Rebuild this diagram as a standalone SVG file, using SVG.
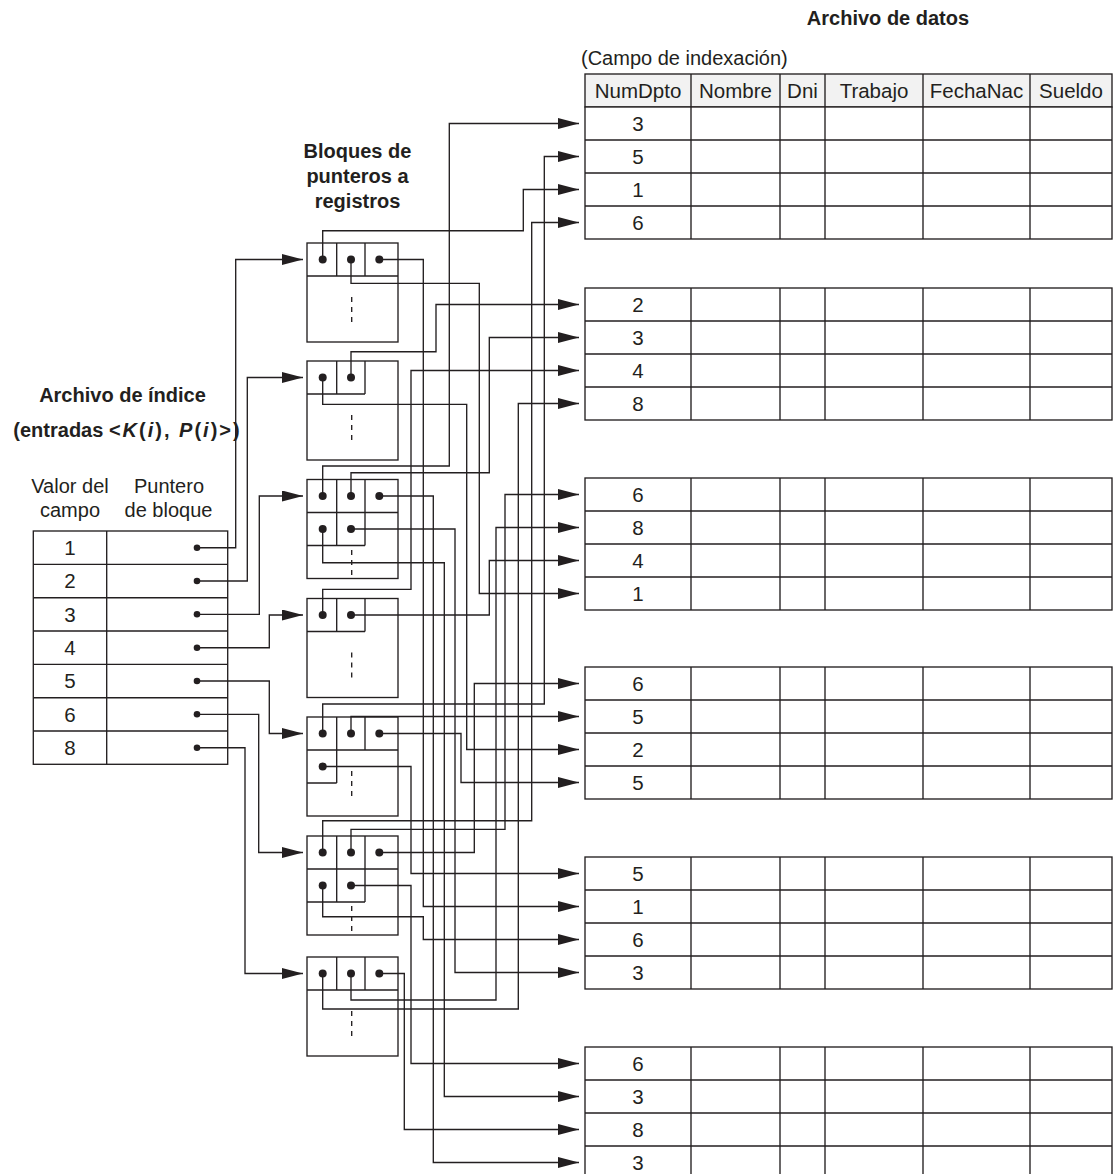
<svg xmlns="http://www.w3.org/2000/svg" xmlns:xlink="http://www.w3.org/1999/xlink" width="1114" height="1174" viewBox="0 0 1114 1174">
<style>
.ln{fill:none;stroke:#231f20;stroke-width:1.35}
.cn{fill:none;stroke:#231f20;stroke-width:1.35;marker-end:url(#ah)}
.bx{fill:#fff;stroke:#231f20;stroke-width:1.35}
.hd{fill:#f2f2f2;stroke:#231f20;stroke-width:1.35}
.ds{fill:none;stroke:#231f20;stroke-width:1.35;stroke-dasharray:5 5}
.dot{fill:#231f20}
.t{font-family:"Liberation Sans",Arial,sans-serif;font-size:20px;fill:#231f20}
.tt{font-family:"Liberation Sans",Arial,sans-serif;font-size:20.5px;fill:#231f20;text-anchor:middle}
.b{font-weight:bold}
.m{text-anchor:middle}
.i{font-style:italic}
.sp{letter-spacing:2px}
</style>
<defs>
<marker id="ah" markerUnits="userSpaceOnUse" viewBox="0 0 21 11" markerWidth="21" markerHeight="11" refX="21" refY="5.5" orient="auto">
<path d="M0,0 L21,5.5 L0,11 Z" fill="#231f20"/>
</marker>
<g id="grid4">
<rect class="bx" x="585" y="0" width="527" height="132"/>
<path class="ln" d="M585 33H1112M585 66H1112M585 99H1112M691 0V132M780 0V132M825 0V132M923 0V132M1030 0V132"/>
</g>
</defs>

<!-- Labels -->
<g id="labels">
<text class="t b m" x="888" y="25">Archivo de datos</text>
<text class="t" x="581" y="65">(Campo de indexación)</text>
<text class="t b m" x="357.5" y="157.5">Bloques de</text>
<text class="t b m" x="357.5" y="182.7">punteros a</text>
<text class="t b m" x="357.5" y="208">registros</text>
<text class="t b m" x="122.5" y="401.7">Archivo de índice</text>
<text class="t b m" x="126.5" y="436.5">(entradas <tspan class="sp">&lt;<tspan class="i">K</tspan>(<tspan class="i">i</tspan>), <tspan class="i">P</tspan>(<tspan class="i">i</tspan>)&gt;</tspan>)</text>
<text class="t m" x="70" y="493">Valor del</text>
<text class="t m" x="70" y="517">campo</text>
<text class="t m" x="169" y="493">Puntero</text>
<text class="t m" x="168.5" y="517">de bloque</text>
</g>

<!-- Index file -->
<g id="index">
<rect class="bx" x="33.3" y="531" width="194.4" height="233.3"/>
<path class="ln" d="M33.3 564.3H227.7M33.3 597.7H227.7M33.3 631H227.7M33.3 664.3H227.7M33.3 697.7H227.7M33.3 731H227.7M106.7 531V764.3"/>
<text class="tt" x="70" y="555">1</text>
<text class="tt" x="70" y="588.3">2</text>
<text class="tt" x="70" y="621.6">3</text>
<text class="tt" x="70" y="655">4</text>
<text class="tt" x="70" y="688.3">5</text>
<text class="tt" x="70" y="721.6">6</text>
<text class="tt" x="70" y="755">8</text>
<circle class="dot" cx="197" cy="547.7" r="3.3"/>
<circle class="dot" cx="197" cy="581" r="3.3"/>
<circle class="dot" cx="197" cy="614.3" r="3.3"/>
<circle class="dot" cx="197" cy="647.7" r="3.3"/>
<circle class="dot" cx="197" cy="681" r="3.3"/>
<circle class="dot" cx="197" cy="714.3" r="3.3"/>
<circle class="dot" cx="197" cy="747.7" r="3.3"/>
</g>

<!-- Blocks -->
<g id="block1">
<rect class="bx" x="307" y="243" width="91" height="99"/>
<path class="ln" d="M307 276H398M336.7 243V276M365 243V276"/>
<path class="ds" d="M351.7 297V322"/>
<circle class="dot" cx="322.7" cy="259.5" r="4"/><circle class="dot" cx="351" cy="259.5" r="4"/><circle class="dot" cx="379.3" cy="259.5" r="4"/>
</g>
<g id="block2">
<rect class="bx" x="307" y="361" width="91" height="99"/>
<path class="ln" d="M307 394H365M336.7 361V394M365 361V394"/>
<path class="ds" d="M351.7 415V440"/>
<circle class="dot" cx="322.7" cy="377.5" r="4"/><circle class="dot" cx="351" cy="377.5" r="4"/>
</g>
<g id="block3">
<rect class="bx" x="307" y="479.5" width="91" height="99"/>
<path class="ln" d="M307 512.5H398M336.7 479.5V545.5M365 479.5V545.5M307 545.5H365"/>
<path class="ds" d="M351.7 550V576"/>
<circle class="dot" cx="322.7" cy="496" r="4"/><circle class="dot" cx="351" cy="496" r="4"/><circle class="dot" cx="379.3" cy="496" r="4"/>
<circle class="dot" cx="322.7" cy="529" r="4"/><circle class="dot" cx="351" cy="529" r="4"/>
</g>
<g id="block4">
<rect class="bx" x="307" y="598.5" width="91" height="99"/>
<path class="ln" d="M307 631.5H365M336.7 598.5V631.5M365 598.5V631.5"/>
<path class="ds" d="M351.7 652.5V677.5"/>
<circle class="dot" cx="322.7" cy="615" r="4"/><circle class="dot" cx="351" cy="615" r="4"/>
</g>
<g id="block5">
<rect class="bx" x="307" y="717" width="91" height="99"/>
<path class="ln" d="M307 750H398M336.7 717V783M365 717V750M307 783H336.7"/>
<path class="ds" d="M351.7 771V796"/>
<circle class="dot" cx="322.7" cy="733.5" r="4"/><circle class="dot" cx="351" cy="733.5" r="4"/><circle class="dot" cx="379.3" cy="733.5" r="4"/>
<circle class="dot" cx="322.7" cy="766.5" r="4"/>
</g>
<g id="block6">
<rect class="bx" x="307" y="836" width="91" height="99"/>
<path class="ln" d="M307 869H398M336.7 836V902M365 836V902M307 902H365"/>
<path class="ds" d="M351.7 906V933"/>
<circle class="dot" cx="322.7" cy="852.5" r="4"/><circle class="dot" cx="351" cy="852.5" r="4"/><circle class="dot" cx="379.3" cy="852.5" r="4"/>
<circle class="dot" cx="322.7" cy="885.5" r="4"/><circle class="dot" cx="351" cy="885.5" r="4"/>
</g>
<g id="block7">
<rect class="bx" x="307" y="957" width="91" height="99"/>
<path class="ln" d="M307 990H398M336.7 957V990M365 957V990"/>
<path class="ds" d="M351.7 1011V1036"/>
<circle class="dot" cx="322.7" cy="973.5" r="4"/><circle class="dot" cx="351" cy="973.5" r="4"/><circle class="dot" cx="379.3" cy="973.5" r="4"/>
</g>

<!-- Data file tables -->
<g id="table1">
<rect class="hd" x="585" y="74" width="527" height="33"/>
<path class="ln" d="M691 74V107M780 74V107M825 74V107M923 74V107M1030 74V107"/>
<text class="tt" x="638" y="98">NumDpto</text>
<text class="tt" x="735.5" y="98">Nombre</text>
<text class="tt" x="802.5" y="98">Dni</text>
<text class="tt" x="874" y="98">Trabajo</text>
<text class="tt" x="976.5" y="98">FechaNac</text>
<text class="tt" x="1071" y="98">Sueldo</text>
<use xlink:href="#grid4" href="#grid4" y="107"/>
<text class="tt" x="638" y="131">3</text>
<text class="tt" x="638" y="164">5</text>
<text class="tt" x="638" y="197">1</text>
<text class="tt" x="638" y="230">6</text>
</g>
<g id="table2">
<use xlink:href="#grid4" href="#grid4" y="288"/>
<text class="tt" x="638" y="312">2</text>
<text class="tt" x="638" y="345">3</text>
<text class="tt" x="638" y="378">4</text>
<text class="tt" x="638" y="411">8</text>
</g>
<g id="table3">
<use xlink:href="#grid4" href="#grid4" y="478"/>
<text class="tt" x="638" y="502">6</text>
<text class="tt" x="638" y="535">8</text>
<text class="tt" x="638" y="568">4</text>
<text class="tt" x="638" y="601">1</text>
</g>
<g id="table4">
<use xlink:href="#grid4" href="#grid4" y="667"/>
<text class="tt" x="638" y="691">6</text>
<text class="tt" x="638" y="724">5</text>
<text class="tt" x="638" y="757">2</text>
<text class="tt" x="638" y="790">5</text>
</g>
<g id="table5">
<use xlink:href="#grid4" href="#grid4" y="857"/>
<text class="tt" x="638" y="881">5</text>
<text class="tt" x="638" y="914">1</text>
<text class="tt" x="638" y="947">6</text>
<text class="tt" x="638" y="980">3</text>
</g>
<g id="table6">
<use xlink:href="#grid4" href="#grid4" y="1047"/>
<text class="tt" x="638" y="1071">6</text>
<text class="tt" x="638" y="1104">3</text>
<text class="tt" x="638" y="1137">8</text>
<text class="tt" x="638" y="1170">3</text>
</g>

<!-- Connectors -->
<g id="connectors">
<!-- index to blocks -->
<path class="cn" d="M197 547.7H235.7V259.5H303"/>
<path class="cn" d="M197 581H247.3V377.5H303"/>
<path class="cn" d="M197 614.3H259.3V496H303"/>
<path class="cn" d="M197 647.7H269.3V615H303"/>
<path class="cn" d="M197 681H269.3V733.5H303"/>
<path class="cn" d="M197 714.3H258.7V852.5H303"/>
<path class="cn" d="M197 747.7H245V973.5H303"/>
<!-- block 1 -->
<path class="cn" d="M322.7 259.5V230.7H523.3V189.5H579"/>
<path class="cn" d="M351 259.5V283.3H479.3V593.5H579"/>
<path class="cn" d="M379.3 259.5H423.3V906.5H579"/>
<!-- block 2 -->
<path class="cn" d="M322.7 377.5V404.3H466.7V749.5H579"/>
<path class="cn" d="M351 377.5V351.7H436V304.5H579"/>
<!-- block 3 -->
<path class="cn" d="M322.7 496V466H449.3V123.5H579"/>
<path class="cn" d="M351 496V472.7H489.3V337.5H579"/>
<path class="cn" d="M379.3 496H433.3V1162.5H579"/>
<path class="cn" d="M322.7 529V562.7H444.3V1096.5H579"/>
<path class="cn" d="M351 529H455V972.5H579"/>
<!-- block 4 -->
<path class="cn" d="M322.7 615V589.3H411V370.5H579"/>
<path class="cn" d="M351 615H489.3V560.5H579"/>
<!-- block 5 -->
<path class="cn" d="M322.7 733.5V704H544.3V156.5H579"/>
<path class="cn" d="M351 733.5V716.5H579"/>
<path class="cn" d="M379.3 733.5H461V782.5H579"/>
<path class="cn" d="M322.7 766.5H411V873.5H579"/>
<!-- block 6 -->
<path class="cn" d="M322.7 852.5V820.7H531.7V222.5H579"/>
<path class="cn" d="M351 852.5V829.3H505V494.5H579"/>
<path class="cn" d="M379.3 852.5H474.3V683.5H579"/>
<path class="cn" d="M322.7 885.5V916.7H423.3V939.5H579"/>
<path class="cn" d="M351 885.5H411V1063.5H579"/>
<!-- block 7 -->
<path class="cn" d="M322.7 973.5V1009H518.3V403.5H579"/>
<path class="cn" d="M351 973.5V1000H496V527.5H579"/>
<path class="cn" d="M379.3 973.5H404.3V1129.5H579"/>
</g>
</svg>
